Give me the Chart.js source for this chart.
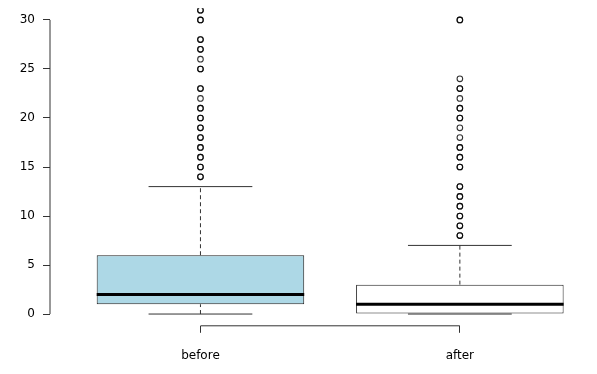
<!DOCTYPE html>
<html>
<head>
<meta charset="utf-8">
<script src="https://cdn.jsdelivr.net/npm/chart.js@4/dist/chart.umd.min.js"></script>
<style>
  html, body { margin: 0; padding: 0; background: #ffffff; }
  #wrap { width: 597px; height: 374px; }
</style>
</head>
<body>
<div id="wrap"><canvas id="c" width="597" height="374"></canvas></div>
<script>
// ---- data ----
const categories = ['before', 'after'];
const q1 = [1, 0];
const medians = [2, 1];
const q3 = [6, 3];
const whiskerLow = [0, 0];
const whiskerHigh = [13, 7];
// outliers (repeated values = overplotted points, drawn darker)
const outliersBefore = [14, 14, 15, 15, 16, 16, 17, 17, 18, 18, 19, 19, 20, 20, 21, 21, 22, 23, 23, 25, 25, 26, 27, 27, 28, 28, 30, 30, 31, 31];
const outliersAfter = [8, 8, 9, 9, 10, 10, 11, 11, 12, 12, 13, 13, 15, 15, 16, 16, 17, 17, 18, 19, 20, 20, 21, 21, 22, 23, 23, 24, 30, 30];
const yTicks = [0, 5, 10, 15, 20, 25, 30];
const boxColors = ['#add8e6', '#ffffff'];

// ---- derived datasets ----
const HALF = 0.4;   // half box width in category units
const CAP = 0.2;    // half cap width
function segs(fn) {
  const out = [];
  categories.forEach((c, i) => {
    fn(i).forEach(p => out.push(p));
    out.push({ x: i + 1.5, y: null });
  });
  return out;
}
const boxData = categories.map((c, i) => ({ x: i + 1, y: [q1[i], q3[i]] }));
const medianData = segs(i => [{ x: i + 1 - HALF, y: medians[i] }, { x: i + 1 + HALF, y: medians[i] }]);
const upperWhisker = segs(i => [{ x: i + 1, y: q3[i] }, { x: i + 1, y: whiskerHigh[i] }]);
const lowerWhisker = segs(i => [{ x: i + 1, y: whiskerLow[i] }, { x: i + 1, y: q1[i] }]);
const capData = [];
categories.forEach((c, i) => {
  [whiskerLow[i], whiskerHigh[i]].forEach(v => {
    capData.push({ x: i + 1 - CAP, y: v }, { x: i + 1 + CAP, y: v }, { x: i + 1, y: null });
  });
});
const outlierData = outliersBefore.map(v => ({ x: 1, y: v }))
  .concat(outliersAfter.map(v => ({ x: 2, y: v })));

Chart.defaults.font.family = 'DejaVu Sans';
Chart.defaults.font.size = 12;
Chart.defaults.color = '#000';

function zeroPad(scale) {
  scale.paddingTop = 0; scale.paddingBottom = 0;
  scale.paddingLeft = 0; scale.paddingRight = 0;
}

const axisLines = {
  id: 'axisLines',
  afterDraw(chart) {
    const ctx = chart.ctx, x = chart.scales.x, y = chart.scales.y, a = chart.chartArea;
    ctx.save();
    ctx.strokeStyle = '#333';
    ctx.lineWidth = 1;
    ctx.beginPath();
    ctx.moveTo(a.left, y.getPixelForValue(yTicks[0]));
    ctx.lineTo(a.left, y.getPixelForValue(yTicks[yTicks.length - 1]));
    ctx.moveTo(x.getPixelForValue(1), a.bottom);
    ctx.lineTo(x.getPixelForValue(categories.length), a.bottom);
    ctx.stroke();
    ctx.restore();
  }
};

new Chart(document.getElementById('c'), {
  type: 'bar',
  data: {
    datasets: [
      {
        type: 'line', data: medianData, borderColor: '#000', borderWidth: 3,
        pointRadius: 0, spanGaps: false, order: 1
      },
      {
        type: 'line', data: upperWhisker, borderColor: '#333', borderWidth: 1,
        borderDash: [4, 3], pointRadius: 0, spanGaps: false, order: 2
      },
      {
        type: 'line', data: lowerWhisker, borderColor: '#333', borderWidth: 1,
        borderDash: [4, 3], pointRadius: 0, spanGaps: false, order: 2
      },
      {
        type: 'line', data: capData, borderColor: '#333', borderWidth: 1,
        pointRadius: 0, spanGaps: false, order: 2
      },
      {
        type: 'scatter', data: outlierData, showLine: false,
        pointStyle: 'circle', pointRadius: 2.8, pointBorderWidth: 1.1,
        pointBorderColor: 'rgba(0,0,0,0.8)', pointBackgroundColor: 'rgba(0,0,0,0)',
        order: 0
      },
      {
        type: 'bar', data: boxData, backgroundColor: boxColors,
        borderColor: '#222', borderWidth: 1, borderSkipped: false,
        barPercentage: 0.8, categoryPercentage: 1, order: 10
      }
    ]
  },
  options: {
    responsive: false,
    animation: false,
    devicePixelRatio: 1,
    layout: { padding: { top: 8.2, left: 0, right: 0, bottom: 0 } },
    plugins: { legend: { display: false }, tooltip: { enabled: false } },
    scales: {
      x: {
        type: 'linear', position: 'bottom', min: 0.42, max: 2.509,
        offset: false, bounds: 'data',
        afterBuildTicks: s => { s.ticks = categories.map((c, i) => ({ value: i + 1 })); },
        afterFit: s => { s.height = 48.2; zeroPad(s); },
        ticks: {
          callback: v => categories[v - 1], autoSkip: false, maxRotation: 0,
          padding: 16, font: { size: 12 }, color: '#000'
        },
        grid: { offset: false, drawOnChartArea: false, drawTicks: true, tickLength: 7, color: '#333', lineWidth: 1 },
        border: { display: false }
      },
      y: {
        type: 'linear', position: 'left', min: -1.2, max: 31.2,
        afterBuildTicks: s => { s.ticks = yTicks.map(v => ({ value: v })); },
        afterFit: s => { s.width = 50; zeroPad(s); },
        ticks: { padding: 8, font: { size: 12 }, color: '#000' },
        grid: { drawOnChartArea: false, drawTicks: true, tickLength: 7, color: '#333', lineWidth: 1 },
        border: { display: false }
      }
    }
  },
  plugins: [axisLines]
});
</script>
</body>
</html>
